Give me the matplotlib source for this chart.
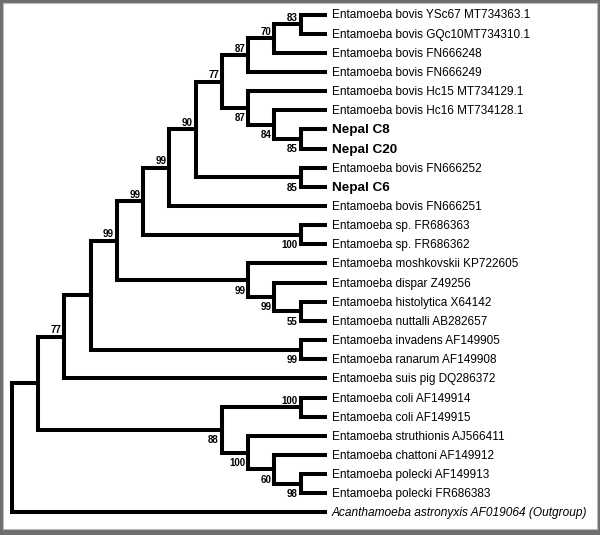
import matplotlib
matplotlib.use('Agg')
import matplotlib.pyplot as plt
from matplotlib.patches import Rectangle

plt.rcParams['font.family'] = ['Liberation Sans', 'DejaVu Sans']

# leaf labels, top to bottom
leaves = [
    'Entamoeba bovis YSc67 MT734363.1',
    'Entamoeba bovis GQc10MT734310.1',
    'Entamoeba bovis FN666248',
    'Entamoeba bovis FN666249',
    'Entamoeba bovis Hc15 MT734129.1',
    'Entamoeba bovis Hc16 MT734128.1',
    'Nepal C8',
    'Nepal C20',
    'Entamoeba bovis FN666252',
    'Nepal C6',
    'Entamoeba bovis FN666251',
    'Entamoeba sp. FR686363',
    'Entamoeba sp. FR686362',
    'Entamoeba moshkovskii KP722605',
    'Entamoeba dispar Z49256',
    'Entamoeba histolytica X64142',
    'Entamoeba nuttalli AB282657',
    'Entamoeba invadens AF149905',
    'Entamoeba ranarum AF149908',
    'Entamoeba suis pig DQ286372',
    'Entamoeba coli AF149914',
    'Entamoeba coli AF149915',
    'Entamoeba struthionis AJ566411',
    'Entamoeba chattoni AF149912',
    'Entamoeba polecki AF149913',
    'Entamoeba polecki FR686383',
    'Acanthamoeba astronyxis AF019064 (Outgroup)',
]
bold_leaves = ['Nepal C8', 'Nepal C20', 'Nepal C6']
italic_leaves = ['Acanthamoeba astronyxis AF019064 (Outgroup)']

# topology: (bootstrap support, child, child); ints are leaf indices
tree = (None,
        (None,
         (77,
          (None,
           (99,
            (99,
             (99,
              (90,
               (77,
                (87, (70, (83, 0, 1), 2), 3),
                (87, 4, (84, 5, (85, 6, 7)))),
               (85, 8, 9)),
              10),
             (100, 11, 12)),
            (99, 13, (99, 14, (55, 15, 16)))),
           (99, 17, 18)),
          19),
         (88, (100, 20, 21), (100, 22, (60, 23, (98, 24, 25))))),
        26)

fig = plt.figure(figsize=(6, 5.35), dpi=100, facecolor='#6e6e6e')
ax = fig.add_axes([0, 0, 1, 1])
ax.patch.set_visible(False)
ax.axis('off')
ax.add_patch(Rectangle((3 / 600, 6 / 535), 594 / 600, 526 / 535,
                       transform=fig.transFigure, facecolor='white',
                       edgecolor='#bdbdbd', linewidth=0.8, zorder=-10,
                       clip_on=False))

# 1 x-unit = one tree level (26.25 px), 1 y-unit = one leaf row (19.15 px)
ax.set_xlim(-327 / 26.25, 273 / 26.25)
ax.set_ylim(520.5 / 19.15, -14.5 / 19.15)

lw = 2.9
px = 0.72  # points per pixel


def layout(node):
    """Return (x, y) of node; x = -height, y = mean of child rows."""
    if isinstance(node, int):
        return 0, node
    sup, *kids = node
    pos = [layout(k) for k in kids]
    x = min(p[0] for p in pos) - 1
    y = (pos[0][1] + pos[-1][1]) / 2
    (x1, y1), (x2, y2) = pos[0], pos[-1]
    ax.plot([x1, x, x, x2], [y1, y1, y2, y2], color='black', lw=lw,
            solid_joinstyle='miter', solid_capstyle='butt')
    for i, (kid, (kx, ky)) in enumerate(zip(kids, pos)):
        if isinstance(kid, int) or kid[0] is None:
            continue
        dy = 3.5 * px if i == 0 else -13.5 * px
        ax.annotate(str(kid[0]), (kx, ky), xytext=(-3 * px, dy),
                    textcoords='offset points', ha='right', va='baseline',
                    fontsize=7, fontweight='bold')
    return x, y


layout(tree)

for i, name in enumerate(leaves):
    weight = 'bold' if name in bold_leaves else 'normal'
    style = 'italic' if name in italic_leaves else 'normal'
    size = 8.5
    if name in bold_leaves:
        size = 9.7
    elif name in italic_leaves:
        size = 8.6
    ax.annotate(name, (0, i), xytext=(5 * px, -4 * px),
                textcoords='offset points', ha='left', va='baseline',
                fontsize=size, fontweight=weight, fontstyle=style)

fig.savefig('out.png', dpi=100, facecolor=fig.get_facecolor())
